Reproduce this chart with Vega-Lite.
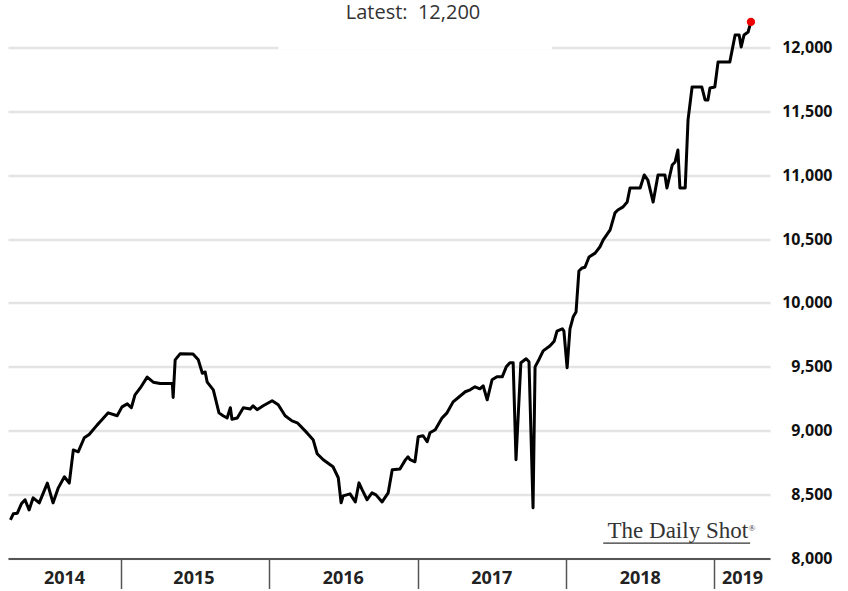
{
  "$schema": "https://vega.github.io/schema/vega-lite/v6.json",
  "width": 762,
  "height": 543,
  "autosize": "none",
  "padding": {"left": 8, "top": 15.5, "right": 78, "bottom": 32.5},
  "background": "white",
  "title": {
    "text": "Latest:\u00a0 12,200",
    "font": "Open Sans",
    "fontSize": 20,
    "fontWeight": "normal",
    "color": "#333333",
    "anchor": "middle",
    "frame": "group",
    "dx": 24,
    "dy": 23,
    "baseline": "alphabetic",
    "offset": 0
  },
  "config": {"view": {"stroke": null}},
  "resolve": {"axis": {"x": "independent"}},
  "layer": [
    {
      "data": {
        "values": [
          {"date": "2014-04-03", "value": 8303},
          {"date": "2014-04-10", "value": 8350},
          {"date": "2014-04-20", "value": 8355},
          {"date": "2014-04-30", "value": 8428},
          {"date": "2014-05-09", "value": 8460},
          {"date": "2014-05-19", "value": 8380},
          {"date": "2014-05-29", "value": 8475},
          {"date": "2014-06-13", "value": 8435},
          {"date": "2014-07-03", "value": 8590},
          {"date": "2014-07-17", "value": 8435},
          {"date": "2014-07-30", "value": 8553},
          {"date": "2014-08-14", "value": 8640},
          {"date": "2014-08-26", "value": 8590},
          {"date": "2014-09-05", "value": 8850},
          {"date": "2014-09-17", "value": 8835},
          {"date": "2014-10-02", "value": 8945},
          {"date": "2014-10-14", "value": 8970},
          {"date": "2014-11-03", "value": 9046},
          {"date": "2014-11-10", "value": 9070},
          {"date": "2014-11-30", "value": 9140},
          {"date": "2014-12-22", "value": 9117},
          {"date": "2015-01-03", "value": 9187},
          {"date": "2015-01-16", "value": 9210},
          {"date": "2015-01-26", "value": 9180},
          {"date": "2015-02-04", "value": 9280},
          {"date": "2015-02-17", "value": 9335},
          {"date": "2015-03-06", "value": 9420},
          {"date": "2015-03-21", "value": 9380},
          {"date": "2015-04-07", "value": 9370},
          {"date": "2015-05-07", "value": 9370},
          {"date": "2015-05-09", "value": 9260},
          {"date": "2015-05-14", "value": 9555},
          {"date": "2015-05-26", "value": 9602},
          {"date": "2015-06-27", "value": 9600},
          {"date": "2015-07-10", "value": 9555},
          {"date": "2015-07-20", "value": 9450},
          {"date": "2015-07-27", "value": 9460},
          {"date": "2015-08-01", "value": 9380},
          {"date": "2015-08-16", "value": 9320},
          {"date": "2015-08-30", "value": 9140},
          {"date": "2015-09-09", "value": 9117},
          {"date": "2015-09-19", "value": 9100},
          {"date": "2015-09-27", "value": 9180},
          {"date": "2015-10-01", "value": 9090},
          {"date": "2015-10-14", "value": 9100},
          {"date": "2015-10-29", "value": 9180},
          {"date": "2015-11-15", "value": 9170},
          {"date": "2015-11-22", "value": 9195},
          {"date": "2015-12-02", "value": 9165},
          {"date": "2015-12-17", "value": 9195},
          {"date": "2016-01-08", "value": 9235},
          {"date": "2016-01-23", "value": 9203},
          {"date": "2016-02-09", "value": 9117},
          {"date": "2016-02-26", "value": 9077},
          {"date": "2016-03-10", "value": 9062},
          {"date": "2016-04-03", "value": 8983},
          {"date": "2016-04-18", "value": 8930},
          {"date": "2016-04-28", "value": 8820},
          {"date": "2016-05-13", "value": 8773},
          {"date": "2016-05-25", "value": 8745},
          {"date": "2016-06-06", "value": 8718},
          {"date": "2016-06-19", "value": 8632},
          {"date": "2016-06-26", "value": 8436},
          {"date": "2016-07-01", "value": 8490},
          {"date": "2016-07-18", "value": 8506},
          {"date": "2016-07-31", "value": 8443},
          {"date": "2016-08-09", "value": 8592},
          {"date": "2016-08-17", "value": 8537},
          {"date": "2016-08-29", "value": 8460},
          {"date": "2016-09-10", "value": 8514},
          {"date": "2016-09-20", "value": 8498},
          {"date": "2016-10-05", "value": 8443},
          {"date": "2016-10-20", "value": 8514},
          {"date": "2016-10-30", "value": 8694},
          {"date": "2016-11-18", "value": 8700},
          {"date": "2016-12-01", "value": 8770},
          {"date": "2016-12-08", "value": 8796},
          {"date": "2016-12-13", "value": 8773},
          {"date": "2016-12-25", "value": 8757},
          {"date": "2017-01-02", "value": 8953},
          {"date": "2017-01-14", "value": 8961},
          {"date": "2017-01-24", "value": 8914},
          {"date": "2017-01-31", "value": 8984},
          {"date": "2017-02-13", "value": 9008},
          {"date": "2017-03-02", "value": 9101},
          {"date": "2017-03-14", "value": 9140},
          {"date": "2017-03-29", "value": 9226},
          {"date": "2017-04-28", "value": 9305},
          {"date": "2017-05-10", "value": 9320},
          {"date": "2017-05-22", "value": 9344},
          {"date": "2017-06-03", "value": 9328},
          {"date": "2017-06-11", "value": 9352},
          {"date": "2017-06-21", "value": 9242},
          {"date": "2017-07-03", "value": 9399},
          {"date": "2017-07-15", "value": 9422},
          {"date": "2017-07-28", "value": 9422},
          {"date": "2017-08-07", "value": 9500},
          {"date": "2017-08-16", "value": 9532},
          {"date": "2017-08-24", "value": 9532},
          {"date": "2017-08-31", "value": 8773},
          {"date": "2017-09-12", "value": 9532},
          {"date": "2017-09-25", "value": 9563},
          {"date": "2017-10-02", "value": 9540},
          {"date": "2017-10-12", "value": 8397},
          {"date": "2017-10-17", "value": 9500},
          {"date": "2017-10-27", "value": 9560},
          {"date": "2017-11-06", "value": 9625},
          {"date": "2017-11-23", "value": 9665},
          {"date": "2017-12-03", "value": 9700},
          {"date": "2017-12-10", "value": 9780},
          {"date": "2017-12-23", "value": 9798},
          {"date": "2017-12-27", "value": 9782},
          {"date": "2018-01-04", "value": 9493},
          {"date": "2018-01-11", "value": 9798},
          {"date": "2018-01-19", "value": 9892},
          {"date": "2018-01-26", "value": 9930},
          {"date": "2018-02-02", "value": 10250},
          {"date": "2018-02-10", "value": 10274},
          {"date": "2018-02-17", "value": 10280},
          {"date": "2018-02-27", "value": 10360},
          {"date": "2018-03-14", "value": 10390},
          {"date": "2018-03-26", "value": 10440},
          {"date": "2018-04-03", "value": 10494},
          {"date": "2018-04-20", "value": 10572},
          {"date": "2018-05-02", "value": 10705},
          {"date": "2018-05-09", "value": 10728},
          {"date": "2018-05-22", "value": 10752},
          {"date": "2018-06-01", "value": 10790},
          {"date": "2018-06-08", "value": 10900},
          {"date": "2018-07-03", "value": 10900},
          {"date": "2018-07-13", "value": 11002},
          {"date": "2018-07-22", "value": 10962},
          {"date": "2018-08-04", "value": 10790},
          {"date": "2018-08-16", "value": 11002},
          {"date": "2018-09-02", "value": 11002},
          {"date": "2018-09-07", "value": 10900},
          {"date": "2018-09-20", "value": 11080},
          {"date": "2018-09-27", "value": 11103},
          {"date": "2018-10-04", "value": 11197},
          {"date": "2018-10-09", "value": 10900},
          {"date": "2018-10-22", "value": 10900},
          {"date": "2018-10-29", "value": 11433},
          {"date": "2018-11-08", "value": 11690},
          {"date": "2018-12-02", "value": 11690},
          {"date": "2018-12-10", "value": 11589},
          {"date": "2018-12-17", "value": 11589},
          {"date": "2018-12-22", "value": 11683},
          {"date": "2019-01-03", "value": 11690},
          {"date": "2019-01-11", "value": 11887},
          {"date": "2019-02-09", "value": 11887},
          {"date": "2019-02-22", "value": 12098},
          {"date": "2019-03-04", "value": 12098},
          {"date": "2019-03-09", "value": 12004},
          {"date": "2019-03-16", "value": 12098},
          {"date": "2019-03-26", "value": 12121},
          {"date": "2019-04-02", "value": 12200}
        ]
      },
      "mark": {"type": "line", "color": "#000000", "strokeWidth": 3, "strokeJoin": "round"},
      "encoding": {
        "x": {
          "field": "date",
          "type": "temporal",
          "scale": {
            "domain": [
              {"year": 2014, "month": 3, "date": 28, "utc": true},
              {"year": 2019, "month": 5, "date": 19, "utc": true}
            ]
          },
          "axis": {
            "orient": "bottom",
            "title": null,
            "values": [
              {"year": 2015, "month": 1, "date": 1, "utc": true},
              {"year": 2016, "month": 1, "date": 1, "utc": true},
              {"year": 2017, "month": 1, "date": 1, "utc": true},
              {"year": 2018, "month": 1, "date": 1, "utc": true},
              {"year": 2019, "month": 1, "date": 1, "utc": true}
            ],
            "labels": false,
            "grid": false,
            "tickSize": 30,
            "tickWidth": 1.5,
            "tickColor": "#555555",
            "domainColor": "#555555",
            "domainWidth": 2
          }
        },
        "y": {
          "field": "value",
          "type": "quantitative",
          "scale": {"domain": [8000, 12250], "nice": false, "zero": false},
          "axis": {
            "orient": "right",
            "title": null,
            "values": [8000, 8500, 9000, 9500, 10000, 10500, 11000, 11500, 12000],
            "format": ",.0f",
            "domain": false,
            "ticks": false,
            "grid": true,
            "gridColor": "#e4e4e4",
            "gridWidth": 2.5,
            "labelFont": "Open Sans",
            "labelFontWeight": "bold",
            "labelFontSize": 16,
            "labelColor": "#111111",
            "labelAlign": "right",
            "labelBaseline": "middle",
            "labelPadding": 62
          }
        }
      }
    },
    {
      "data": {"values": [{"start": "2016-01-23", "end": "2017-11-28", "value": 12000}]},
      "mark": {"type": "rule", "color": "white", "strokeWidth": 4},
      "encoding": {
        "x": {"field": "start", "type": "temporal", "axis": null},
        "x2": {"field": "end"},
        "y": {"field": "value", "type": "quantitative"}
      }
    },
    {
      "data": {"values": [{"date": "2019-04-02", "value": 12200}]},
      "mark": {"type": "point", "filled": true, "color": "#ee0000", "size": 70, "opacity": 1},
      "encoding": {
        "x": {
          "field": "date",
          "type": "temporal",
          "axis": {
            "orient": "bottom",
            "title": null,
            "values": [
              {"year": 2014, "month": 8, "date": 13, "utc": true},
              {"year": 2015, "month": 6, "date": 28, "utc": true},
              {"year": 2016, "month": 6, "date": 30, "utc": true},
              {"year": 2017, "month": 7, "date": 1, "utc": true},
              {"year": 2018, "month": 7, "date": 2, "utc": true},
              {"year": 2019, "month": 3, "date": 11, "utc": true}
            ],
            "format": "%Y",
            "domain": false,
            "ticks": false,
            "tickSize": 0,
            "grid": false,
            "labelFont": "Open Sans",
            "labelFontWeight": "bold",
            "labelFontSize": 18,
            "labelColor": "#222222",
            "labelPadding": 11,
            "labelOverlap": false,
            "labelFlush": false,
            "labelBound": false
          }
        },
        "y": {"field": "value", "type": "quantitative"}
      }
    },
    {
      "data": {"values": [{"date": "2019-03-26", "value": 8160, "label": "The Daily Shot"}]},
      "mark": {"type": "text", "align": "right", "baseline": "alphabetic", "font": "Liberation Serif", "fontSize": 23, "color": "#333333"},
      "encoding": {
        "x": {"field": "date", "type": "temporal", "axis": null},
        "y": {"field": "value", "type": "quantitative"},
        "text": {"field": "label"}
      }
    },
    {
      "data": {"values": [{"date": "2019-03-27", "value": 8215, "label": "®"}]},
      "mark": {"type": "text", "align": "left", "baseline": "alphabetic", "font": "Liberation Serif", "fontSize": 9, "color": "#333333"},
      "encoding": {
        "x": {"field": "date", "type": "temporal", "axis": null},
        "y": {"field": "value", "type": "quantitative"},
        "text": {"field": "label"}
      }
    },
    {
      "data": {"values": [{"start": "2018-04-03", "end": "2019-03-31", "value": 8121}]},
      "mark": {"type": "rule", "color": "#333333", "strokeWidth": 1.2},
      "encoding": {
        "x": {"field": "start", "type": "temporal", "axis": null},
        "x2": {"field": "end"},
        "y": {"field": "value", "type": "quantitative"}
      }
    }
  ]
}
